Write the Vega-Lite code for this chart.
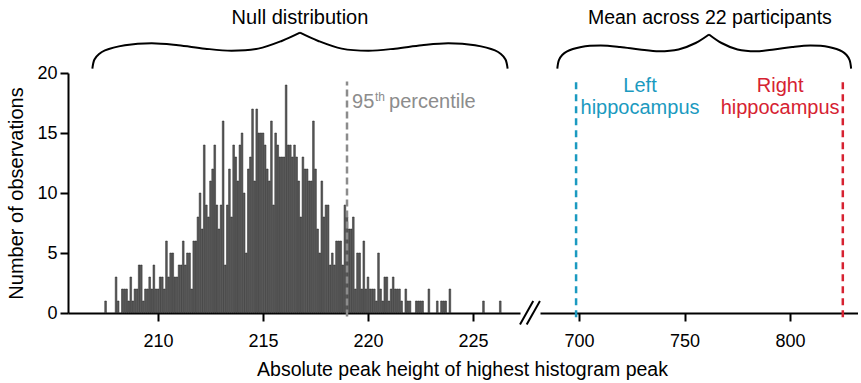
{
  "$schema": "https://vega.github.io/schema/vega-lite/v6.json",
  "autosize": {"type": "pad"},
  "padding": {"left": 6, "top": 7, "right": 0, "bottom": 0},
  "bounds": "flush",
  "spacing": 20,
  "background": "white",
  "config": {
    "view": {"stroke": null},
    "font": "Liberation Sans",
    "axis": {"domainColor": "black", "domainWidth": 2, "tickColor": "black", "tickWidth": 2, "tickSize": 8, "labelColor": "black", "labelFont": "Liberation Sans", "labelFontSize": 18, "titleFont": "Liberation Sans", "titleFontSize": 20, "titleColor": "black", "titleFontWeight": "normal", "grid": false},
    "text": {"font": "Liberation Sans"}
  },
  "title": {"text": "Absolute peak height of highest histogram peak", "orient": "bottom", "anchor": "middle", "fontSize": 19.5, "font": "Liberation Sans", "fontWeight": "normal", "color": "black", "offset": 11, "dx": 30},
  "datasets": {
    "hist": [
      {"v":207.5,"n":1},{"v":208.0,"n":3},{"v":208.1,"n":1},{"v":208.3,"n":2},{"v":208.4,"n":2},{"v":208.5,"n":2},{"v":208.6,"n":1},{"v":208.7,"n":3},{"v":208.8,"n":1},{"v":208.9,"n":2},
      {"v":209.0,"n":2},{"v":209.1,"n":4},{"v":209.2,"n":4},{"v":209.3,"n":1},{"v":209.4,"n":2},{"v":209.5,"n":2},{"v":209.6,"n":3},{"v":209.7,"n":2},{"v":209.8,"n":4},{"v":209.9,"n":2},
      {"v":210.0,"n":2},{"v":210.1,"n":3},{"v":210.2,"n":3},{"v":210.3,"n":2},{"v":210.4,"n":6},{"v":210.5,"n":3},{"v":210.6,"n":5},{"v":210.7,"n":5},{"v":210.8,"n":3},{"v":210.9,"n":3},
      {"v":211.0,"n":4},{"v":211.1,"n":4},{"v":211.2,"n":6},{"v":211.3,"n":4},{"v":211.4,"n":5},{"v":211.5,"n":5},{"v":211.6,"n":2},{"v":211.7,"n":6},{"v":211.8,"n":6},{"v":211.9,"n":8},
      {"v":212.0,"n":10},{"v":212.1,"n":7},{"v":212.2,"n":14},{"v":212.3,"n":9},{"v":212.4,"n":8},{"v":212.5,"n":11},{"v":212.6,"n":12},{"v":212.7,"n":14},{"v":212.8,"n":9},{"v":212.9,"n":7},
      {"v":213.0,"n":9},{"v":213.1,"n":16},{"v":213.2,"n":4},{"v":213.3,"n":9},{"v":213.4,"n":12},{"v":213.5,"n":8},{"v":213.6,"n":14},{"v":213.7,"n":13},{"v":213.8,"n":11},{"v":213.9,"n":14},
      {"v":214.0,"n":15},{"v":214.1,"n":10},{"v":214.2,"n":5},{"v":214.3,"n":12},{"v":214.4,"n":13},{"v":214.5,"n":17},{"v":214.6,"n":11},{"v":214.7,"n":17},{"v":214.8,"n":15},{"v":214.9,"n":15},
      {"v":215.0,"n":15},{"v":215.1,"n":14},{"v":215.2,"n":12},{"v":215.3,"n":11},{"v":215.4,"n":16},{"v":215.5,"n":9},{"v":215.6,"n":15},{"v":215.7,"n":14},{"v":215.8,"n":13},{"v":215.9,"n":13},
      {"v":216.0,"n":13},{"v":216.1,"n":19},{"v":216.2,"n":14},{"v":216.3,"n":14},{"v":216.4,"n":13},{"v":216.5,"n":14},{"v":216.6,"n":13},{"v":216.7,"n":11},{"v":216.8,"n":8},{"v":216.9,"n":13},
      {"v":217.0,"n":12},{"v":217.1,"n":12},{"v":217.2,"n":11},{"v":217.3,"n":11},{"v":217.4,"n":16},{"v":217.5,"n":12},{"v":217.6,"n":7},{"v":217.7,"n":5},{"v":217.8,"n":11},{"v":217.9,"n":8},
      {"v":218.0,"n":9},{"v":218.1,"n":9},{"v":218.2,"n":4},{"v":218.3,"n":5},{"v":218.4,"n":4},{"v":218.5,"n":6},{"v":218.6,"n":6},{"v":218.7,"n":6},{"v":218.8,"n":4},{"v":218.9,"n":9},
      {"v":219.0,"n":8},{"v":219.1,"n":7},{"v":219.2,"n":7},{"v":219.3,"n":8},{"v":219.4,"n":2},{"v":219.5,"n":5},{"v":219.6,"n":5},{"v":219.7,"n":2},{"v":219.8,"n":6},{"v":219.9,"n":2},
      {"v":220.0,"n":3},{"v":220.1,"n":2},{"v":220.2,"n":2},{"v":220.3,"n":2},{"v":220.4,"n":1},{"v":220.5,"n":5},{"v":220.6,"n":2},{"v":220.7,"n":1},{"v":220.8,"n":3},{"v":220.9,"n":3},
      {"v":221.0,"n":1},{"v":221.1,"n":2},{"v":221.2,"n":3},{"v":221.3,"n":2},{"v":221.4,"n":2},{"v":221.5,"n":2},{"v":221.6,"n":1},{"v":221.8,"n":2},{"v":221.9,"n":1},
      {"v":222.0,"n":1},{"v":222.3,"n":1},{"v":222.4,"n":1},{"v":222.5,"n":1},{"v":222.6,"n":1},{"v":222.9,"n":2},
      {"v":223.3,"n":1},{"v":223.5,"n":1},{"v":223.6,"n":1},{"v":223.7,"n":1},{"v":223.9,"n":2},
      {"v":225.5,"n":1},{"v":226.3,"n":1}
    ],
    "braceL": [
      {"bx":206.87,"by":20.36,"half":"a"},{"bx":206.97,"by":21.13,"half":"a"},{"bx":207.19,"by":21.58,"half":"a"},{"bx":207.47,"by":21.88,"half":"a"},{"bx":208.42,"by":22.31,"half":"a"},{"bx":209.70,"by":22.48,"half":"a"},{"bx":210.96,"by":22.31,"half":"a"},{"bx":212.23,"by":22.03,"half":"a"},{"bx":213.50,"by":21.86,"half":"a"},{"bx":214.77,"by":22.03,"half":"a"},{"bx":215.89,"by":22.67,"half":"a"},{"bx":216.76,"by":23.36,"half":"a"},
      {"bx":216.76,"by":23.36,"half":"b"},{"bx":217.63,"by":22.67,"half":"b"},{"bx":218.75,"by":22.03,"half":"b"},{"bx":220.02,"by":21.86,"half":"b"},{"bx":221.29,"by":22.03,"half":"b"},{"bx":222.56,"by":22.31,"half":"b"},{"bx":223.82,"by":22.48,"half":"b"},{"bx":225.10,"by":22.31,"half":"b"},{"bx":226.05,"by":21.88,"half":"b"},{"bx":226.33,"by":21.58,"half":"b"},{"bx":226.55,"by":21.13,"half":"b"},{"bx":226.65,"by":20.36,"half":"b"}
    ],
    "braceR": [
      {"bx":689.70,"by":20.36,"half":"a"},{"bx":690.46,"by":21.08,"half":"a"},{"bx":692.02,"by":21.5,"half":"a"},{"bx":694.11,"by":21.79,"half":"a"},{"bx":701.03,"by":22.17,"half":"a"},{"bx":710.27,"by":22.29,"half":"a"},{"bx":719.46,"by":22.17,"half":"a"},{"bx":728.70,"by":21.96,"half":"a"},{"bx":737.94,"by":21.81,"half":"a"},{"bx":747.14,"by":21.96,"half":"a"},{"bx":755.24,"by":22.5,"half":"a"},{"bx":761.59,"by":23.21,"half":"a"},
      {"bx":761.59,"by":23.21,"half":"b"},{"bx":767.52,"by":22.5,"half":"b"},{"bx":775.10,"by":21.96,"half":"b"},{"bx":783.73,"by":21.81,"half":"b"},{"bx":792.40,"by":21.96,"half":"b"},{"bx":801.03,"by":22.17,"half":"b"},{"bx":809.65,"by":22.29,"half":"b"},{"bx":818.33,"by":22.17,"half":"b"},{"bx":824.82,"by":21.79,"half":"b"},{"bx":826.76,"by":21.5,"half":"b"},{"bx":828.23,"by":21.08,"half":"b"},{"bx":828.94,"by":20.36,"half":"b"}
    ],
    "means": [
      {"mean": 698.6, "side": "Left"},
      {"mean": 825.0, "side": "Right"}
    ],
    "breaks": [
      {"sx": 227.24, "sy": -0.95, "sx2": 227.87, "sy2": 1.0},
      {"sx": 227.56, "sy": -0.95, "sx2": 228.19, "sy2": 1.0}
    ]
  },
  "hconcat": [
    {
      "width": 452,
      "height": 240,
      "layer": [
        {
          "data": {"name": "hist"},
          "mark": {"type": "bar", "width": 1.7, "fill": "#5c5c5c", "stroke": "#222222", "strokeWidth": 0.5},
          "encoding": {
            "x": {"field": "v", "type": "quantitative", "scale": {"domain": [205.71, 227.24], "nice": false, "zero": false, "padding": 0}, "axis": {"values": [210, 215, 220, 225], "title": null, "labelPadding": 11}},
            "y": {"field": "n", "type": "quantitative", "scale": {"domain": [0, 20], "nice": false}, "axis": {"values": [0, 5, 10, 15, 20], "title": "Number of observations", "titlePadding": 10, "labelPadding": 3}}
          }
        },
        {
          "data": {"values": [{}]},
          "mark": {"type": "rule", "color": "#8c8c8c", "strokeWidth": 2.5, "strokeDash": [7, 4]},
          "encoding": {"x": {"datum": 219.0, "type": "quantitative"}, "y": {"datum": -0.3, "type": "quantitative"}, "y2": {"datum": 19.3}}
        },
        {
          "data": {"values": [{}]},
          "mark": {"type": "text", "text": "95", "align": "left", "baseline": "alphabetic", "dx": 5, "fontSize": 20, "color": "#8c8c8c"},
          "encoding": {"x": {"datum": 219.0, "type": "quantitative"}, "y": {"datum": 17.1, "type": "quantitative"}}
        },
        {
          "data": {"values": [{}]},
          "mark": {"type": "text", "text": "th", "align": "left", "baseline": "alphabetic", "dx": 28, "dy": -7, "fontSize": 12, "color": "#8c8c8c"},
          "encoding": {"x": {"datum": 219.0, "type": "quantitative"}, "y": {"datum": 17.1, "type": "quantitative"}}
        },
        {
          "data": {"values": [{}]},
          "mark": {"type": "text", "text": "percentile", "align": "left", "baseline": "alphabetic", "dx": 42, "fontSize": 20, "color": "#8c8c8c"},
          "encoding": {"x": {"datum": 219.0, "type": "quantitative"}, "y": {"datum": 17.1, "type": "quantitative"}}
        },
        {
          "data": {"name": "braceL"},
          "mark": {"type": "line", "color": "black", "strokeWidth": 2, "interpolate": "catmull-rom"},
          "encoding": {"x": {"field": "bx", "type": "quantitative"}, "y": {"field": "by", "type": "quantitative"}, "detail": {"field": "half"}}
        },
        {
          "data": {"values": [{}]},
          "mark": {"type": "text", "text": "Null distribution", "align": "center", "baseline": "middle", "fontSize": 20, "color": "black"},
          "encoding": {"x": {"datum": 216.76, "type": "quantitative"}, "y": {"datum": 24.6, "type": "quantitative"}}
        },
        {
          "data": {"name": "breaks"},
          "mark": {"type": "rule", "color": "black", "strokeWidth": 2},
          "encoding": {"x": {"field": "sx", "type": "quantitative"}, "x2": {"field": "sx2"}, "y": {"field": "sy", "type": "quantitative"}, "y2": {"field": "sy2"}}
        }
      ]
    },
    {
      "width": 318,
      "height": 240,
      "layer": [
        {
          "data": {"name": "means"},
          "mark": {"type": "rule", "strokeWidth": 2.5, "strokeDash": [7, 5]},
          "encoding": {
            "x": {"field": "mean", "type": "quantitative", "scale": {"domain": [681.5, 832.2], "nice": false, "zero": false, "padding": 0}, "axis": {"values": [700, 750, 800], "title": null, "labelPadding": 11}},
            "y": {"datum": -0.35, "type": "quantitative", "scale": {"domain": [0, 20], "nice": false}, "axis": null},
            "y2": {"datum": 19.5},
            "color": {"field": "side", "type": "nominal", "scale": {"domain": ["Left", "Right"], "range": ["#1b9ac0", "#d62231"]}, "legend": null}
          }
        },
        {
          "data": {"values": [{}]},
          "mark": {"type": "text", "text": "Left\nhippocampus", "lineBreak": "\n", "lineHeight": 22, "align": "center", "baseline": "middle", "fontSize": 20, "color": "#1b9ac0"},
          "encoding": {"x": {"datum": 728.9, "type": "quantitative"}, "y": {"datum": 18.9, "type": "quantitative"}}
        },
        {
          "data": {"values": [{}]},
          "mark": {"type": "text", "text": "Right\nhippocampus", "lineBreak": "\n", "lineHeight": 22, "align": "center", "baseline": "middle", "fontSize": 20, "color": "#d62231"},
          "encoding": {"x": {"datum": 795.3, "type": "quantitative"}, "y": {"datum": 18.9, "type": "quantitative"}}
        },
        {
          "data": {"name": "braceR"},
          "mark": {"type": "line", "color": "black", "strokeWidth": 2, "interpolate": "catmull-rom"},
          "encoding": {"x": {"field": "bx", "type": "quantitative"}, "y": {"field": "by", "type": "quantitative"}, "detail": {"field": "half"}}
        },
        {
          "data": {"values": [{}]},
          "mark": {"type": "text", "text": "Mean across 22 participants", "align": "center", "baseline": "middle", "fontSize": 19.5, "color": "black"},
          "encoding": {"x": {"datum": 762.0, "type": "quantitative"}, "y": {"datum": 24.6, "type": "quantitative"}}
        }
      ]
    }
  ]
}
